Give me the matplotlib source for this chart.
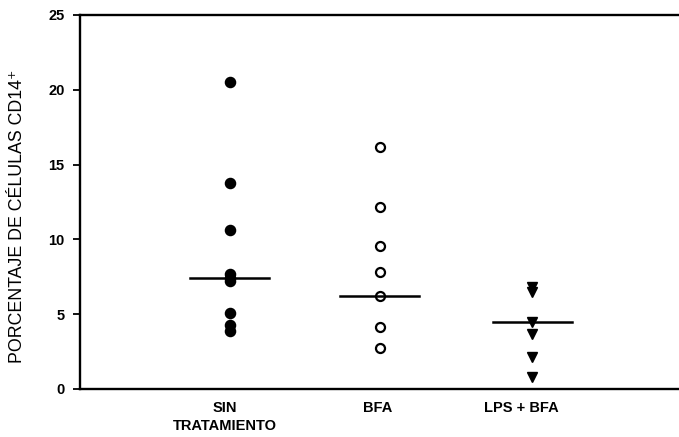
import matplotlib
matplotlib.use("Agg")
import matplotlib.pyplot as plt

plt.rcParams['font.family'] = ['Liberation Sans', 'DejaVu Sans']

# Percentage of CD14+ cells per treatment group
categories = ["SIN\nTRATAMIENTO", "BFA", "LPS + BFA"]
sin_tratamiento = [20.5, 13.8, 10.6, 7.7, 7.4, 7.2, 5.1, 4.3, 3.9]
bfa = [16.2, 12.15, 9.55, 7.85, 6.25, 4.15, 2.75]
lps_bfa = [6.8, 6.5, 4.5, 3.7, 2.15, 0.8]
medians = [7.45, 6.25, 4.5]
y_ticks = [0, 5, 10, 15, 20, 25]

fig = plt.figure(figsize=(6.79, 4.37), dpi=100)
ax = fig.add_axes([80 / 679, 48 / 437, 599 / 679, 374 / 437])

xpos = [1, 2, 3.02]
ax.plot([xpos[0]] * len(sin_tratamiento), sin_tratamiento, 'o', color='black',
        markersize=7.3, linestyle='none')
ax.plot([xpos[1]] * len(bfa), bfa, 'o', markerfacecolor='white',
        markeredgecolor='black', markeredgewidth=1.6, markersize=6.5, linestyle='none')
ax.plot([xpos[2]] * len(lps_bfa), lps_bfa, 'v', color='black',
        markersize=7.5, linestyle='none')

half = 0.265
for x, m in zip(xpos, medians):
    ax.plot([x - half, x + half], [m, m], color='black', linewidth=1.8)

ax.set_xlim(0, 4)
ax.set_ylim(0, 25)
ax.set_yticks(y_ticks)
ax.set_yticklabels([str(t) for t in y_ticks], fontweight='heavy', fontsize=10.5)
ax.set_xticks([0.97, 1.99, 2.95])
ax.set_xticklabels(categories, fontweight='heavy', fontsize=10.5, linespacing=1.3)
ax.tick_params(axis='x', length=0, pad=9)
ax.tick_params(axis='y', length=5, width=1.3, pad=6, direction='out')

for side in ['left', 'top', 'bottom']:
    ax.spines[side].set_linewidth(1.7)
ax.spines['right'].set_visible(False)

ax.set_ylabel("PORCENTAJE DE CÉLULAS CD14⁺", fontsize=12.8)
ax.yaxis.set_label_coords(-0.09, 0.463)

fig.savefig("out.png", dpi=100)
